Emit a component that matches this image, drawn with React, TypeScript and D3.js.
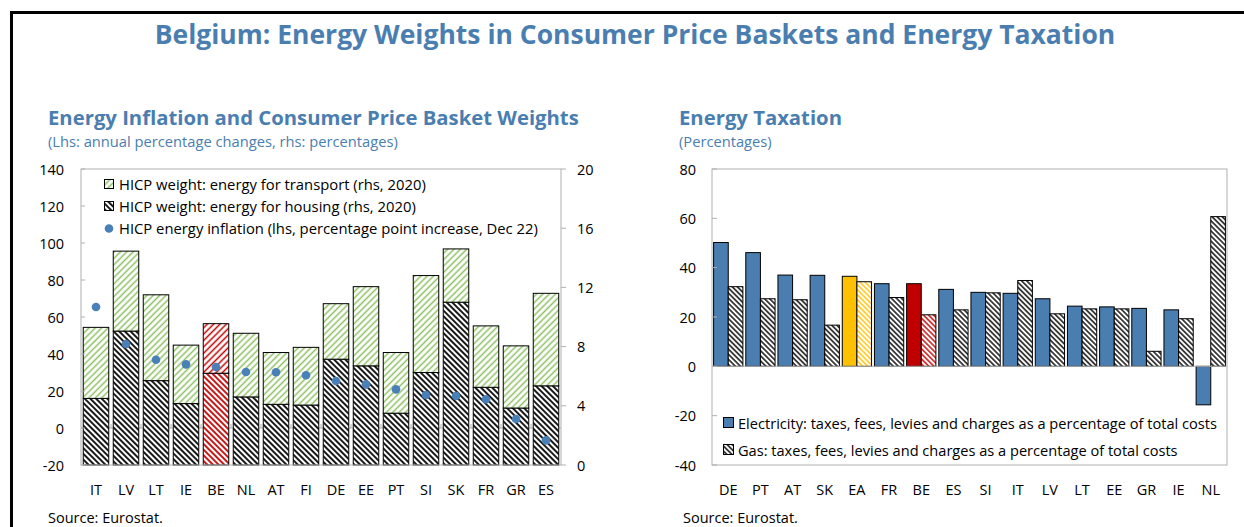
import React from "react";
import * as d3 from "d3";

const leftCats = ["IT","LV","LT","IE","BE","NL","AT","FI","DE","EE","PT","SI","SK","FR","GR","ES"];
const housingWeight = [4.5,9.05,5.7,4.15,6.2,4.6,4.1,4.05,7.15,6.7,3.5,6.25,11.0,5.25,3.85,5.35];
const transportWeight = [4.8,5.4,5.8,3.95,3.35,4.3,3.5,3.9,3.75,5.35,4.1,6.55,3.6,4.15,4.2,6.25];
const energyInflation = [65.4,45.4,36.9,34.4,33.0,30.3,30.1,28.5,25.4,23.6,20.9,17.8,17.3,15.5,4.9,-6.7];
const lhsTicks = [-20,0,20,40,60,80,100,120,140];
const rhsTicks = [0,4,8,12,16,20];

const rightCats = ["DE","PT","AT","SK","EA","FR","BE","ES","SI","IT","LV","LT","EE","GR","IE","NL"];
const electricityTax = [50.2,46.1,37.0,36.9,36.5,33.5,33.5,31.2,30.0,29.6,27.4,24.4,24.1,23.5,22.9,-15.6];
const gasTax = [32.3,27.4,27.0,16.7,34.3,27.9,20.9,22.9,29.8,34.8,21.3,23.3,23.3,6.1,19.3,60.7];
const rTicks = [-40,-20,0,20,40,60,80];

const BLUE_T = "#4a7eb0";
const BAR_BLUE = "#4a7eb0";
const DOT = "#4a80b8";
const GREEN = "#8dbf63";
const RED = "#c00000";
const YEL = "#ffc000";
const GRID = "#b0b0b0";
const FONT = "'Open Sans', sans-serif";

export default function App() {
  // left chart
  const L = { x0: 81, x1: 561, y0: 169, y1: 465 };
  const xL = d3.scaleBand<string>().domain(leftCats).range([L.x0, L.x1]).paddingInner(0.15).paddingOuter(0.075);
  const yLhs = d3.scaleLinear().domain([-20, 140]).range([L.y1, L.y0]);
  const yRhs = d3.scaleLinear().domain([0, 20]).range([L.y1, L.y0]);

  // right chart
  const R = { x0: 712, x1: 1227, y0: 169, y1: 465 };
  const xR = d3.scaleBand<string>().domain(rightCats).range([R.x0, R.x1]).paddingInner(0.09).paddingOuter(0.05);
  const xSub = d3.scaleBand<string>().domain(["e", "g"]).range([0, xR.bandwidth()]).padding(0);
  const yR = d3.scaleLinear().domain([-40, 80]).range([R.y1, R.y0]);

  const hatch = (id: string, color: string, angle: number, gap: number, w: number, dash?: string) => (
    <pattern id={id} patternUnits="userSpaceOnUse" width={gap} height={gap} patternTransform={`rotate(${angle})`}>
      <rect width={gap} height={gap} fill="#fff" />
      <line x1={gap / 2} y1={0} x2={gap / 2} y2={gap} stroke={color} strokeWidth={w} strokeDasharray={dash} />
    </pattern>
  );

  const t = (x: number, y: number, s: string, opts: any = {}) => (
    <text x={x} y={y} fontFamily={FONT} fontSize={opts.size ?? 13} fill={opts.fill ?? "#000"}
      textAnchor={opts.anchor ?? "start"} fontWeight={opts.weight ?? "normal"} dominantBaseline={opts.db ?? "auto"}>{s}</text>
  );

  const lhsZero = yLhs(0);

  return (
    <div style={{ position: "absolute", left: 0, top: 0 }}>
      <svg width={1244} height={527} style={{ display: "block" }}>
        <defs>
          {hatch("greenH", GREEN, 45, 4.5, 1.5)}
          {hatch("blackH", "#000", -45, 4, 1.8)}
          {hatch("redUp", RED, 45, 4.5, 1.5)}
          {hatch("redDown", RED, -45, 4, 1.8)}
          {hatch("gasH", "#000", -45, 3.6, 1.4)}
          {hatch("gasY", YEL, -45, 3.6, 1.4)}
          {hatch("gasR", RED, -45, 3.6, 1.4)}
        </defs>
        <rect width={1244} height={527} fill="#fff" />
        {/* outer frame */}
        <path d="M11.5,527 L11.5,12.5 L1244,12.5" fill="none" stroke="#000" strokeWidth={3} />

        {t(635, 44, "Belgium: Energy Weights in Consumer Price Baskets and Energy Taxation", { size: 26.5, weight: "bold", fill: BLUE_T, anchor: "middle" })}

        {t(48, 125, "Energy Inflation and Consumer Price Basket Weights", { size: 20.3, weight: "bold", fill: BLUE_T })}
        {t(48, 147, "(Lhs: annual percentage changes, rhs: percentages)", { size: 14.7, fill: BLUE_T })}
        {t(679, 125, "Energy Taxation", { size: 20.3, weight: "bold", fill: BLUE_T })}
        {t(679, 147, "(Percentages)", { size: 14.7, fill: BLUE_T })}

        {/* LEFT CHART */}
        <line x1={L.x0} x2={L.x1} y1={lhsZero} y2={lhsZero} stroke={GRID} strokeWidth={1} />
        {leftCats.slice(1).map((c, i) => {
          const x = (xL(leftCats[i])! + xL.bandwidth() + xL(c)!) / 2;
          return <line key={"bt" + c} x1={x} x2={x} y1={lhsZero} y2={lhsZero - 4} stroke={GRID} />;
        })}
        {leftCats.map((c, i) => {
          const be = c === "BE";
          const x = xL(c)!;
          const w = xL.bandwidth();
          const h0 = yRhs(0), h1 = yRhs(housingWeight[i]), h2 = yRhs(housingWeight[i] + transportWeight[i]);
          return (
            <g key={c}>
              <rect x={x} y={h1} width={w} height={h0 - h1} fill={be ? "url(#redDown)" : "url(#blackH)"} stroke="#000" strokeWidth={1} />
              <rect x={x} y={h2} width={w} height={h1 - h2} fill={be ? "url(#redUp)" : "url(#greenH)"} stroke="#000" strokeWidth={1} />
            </g>
          );
        })}
        {leftCats.map((c, i) => (
          <circle key={"d" + c} cx={xL(c)! + xL.bandwidth() / 2} cy={yLhs(energyInflation[i])} r={4.3} fill={DOT} />
        ))}
        <rect x={L.x0} y={L.y0} width={L.x1 - L.x0} height={L.y1 - L.y0} fill="none" stroke={GRID} strokeWidth={1} />
        {lhsTicks.map(v => (
          <g key={"lt" + v}>
            <line x1={L.x0} x2={L.x0 + 4} y1={yLhs(v)} y2={yLhs(v)} stroke={GRID} />
            {t(64, yLhs(v), String(v), { size: 14.5, anchor: "end", db: "central" })}
          </g>
        ))}
        {rhsTicks.map(v => (
          <g key={"rt" + v}>
            <line x1={L.x1} x2={L.x1 + 5} y1={yRhs(v)} y2={yRhs(v)} stroke={GRID} />
            {t(577, yRhs(v), String(v), { size: 14.5, anchor: "start", db: "central" })}
          </g>
        ))}
        {leftCats.map(c => (
          <g key={"lx" + c}>{t(xL(c)! + xL.bandwidth() / 2, 489, c, { size: 14.5, anchor: "middle", db: "central" })}</g>
        ))}
        {/* left legend */}
        <rect x={104.5} y={179.5} width={9} height={9} fill="url(#greenH)" stroke="#000" />
        {t(119, 184, "HICP weight: energy for transport (rhs, 2020)", { size: 14.8, db: "central" })}
        <rect x={104.5} y={201.5} width={9} height={9} fill="url(#blackH)" stroke="#000" />
        {t(119, 206, "HICP weight: energy for housing (rhs, 2020)", { size: 14.8, db: "central" })}
        <circle cx={109} cy={228.5} r={4.3} fill={DOT} />
        {t(119, 228, "HICP energy inflation (lhs, percentage point increase, Dec 22)", { size: 14.8, db: "central" })}

        {t(48, 523, "Source: Eurostat.", { size: 14.5 })}

        {/* RIGHT CHART */}
        {rightCats.map((c, i) => {
          const x = xR(c)!;
          const e = electricityTax[i], g = gasTax[i];
          const eFill = c === "EA" ? YEL : c === "BE" ? RED : BAR_BLUE;
          const gFill = c === "EA" ? "url(#gasY)" : c === "BE" ? "url(#gasR)" : "url(#gasH)";
          return (
            <g key={"r" + c}>
              <rect x={x + xSub("e")!} y={yR(Math.max(0, e))} width={xSub.bandwidth()} height={Math.abs(yR(e) - yR(0))} fill={eFill} stroke="#000" strokeWidth={1} />
              <rect x={x + xSub("g")!} y={yR(Math.max(0, g))} width={xSub.bandwidth()} height={Math.abs(yR(g) - yR(0))} fill={gFill} stroke="#000" strokeWidth={1} />
            </g>
          );
        })}
        <line x1={R.x0} x2={R.x1} y1={yR(0)} y2={yR(0)} stroke={GRID} strokeWidth={1} />
        <rect x={R.x0} y={R.y0} width={R.x1 - R.x0} height={R.y1 - R.y0} fill="none" stroke={GRID} strokeWidth={1} />
        {rTicks.map(v => (
          <g key={"rr" + v}>
            <line x1={R.x0} x2={R.x0 + 5} y1={yR(v)} y2={yR(v)} stroke={GRID} />
            {t(696, yR(v), String(v), { size: 14.5, anchor: "end", db: "central" })}
          </g>
        ))}
        {rightCats.map(c => (
          <g key={"rx" + c}>{t(xR(c)! + xR.bandwidth() / 2, 489, c, { size: 14.5, anchor: "middle", db: "central" })}</g>
        ))}
        <rect x={723.5} y={417.5} width={10} height={10} fill={BAR_BLUE} stroke="#000" />
        {t(738, 423, "Electricity: taxes, fees, levies and charges as a percentage of total costs", { size: 14.6, db: "central" })}
        <rect x={723.5} y={444.5} width={10} height={10} fill="url(#gasH)" stroke="#000" />
        {t(738, 449.5, "Gas: taxes, fees, levies and charges as a percentage of total costs", { size: 14.6, db: "central" })}

        {t(683, 523, "Source: Eurostat.", { size: 14.5 })}
      </svg>
    </div>
  );
}
